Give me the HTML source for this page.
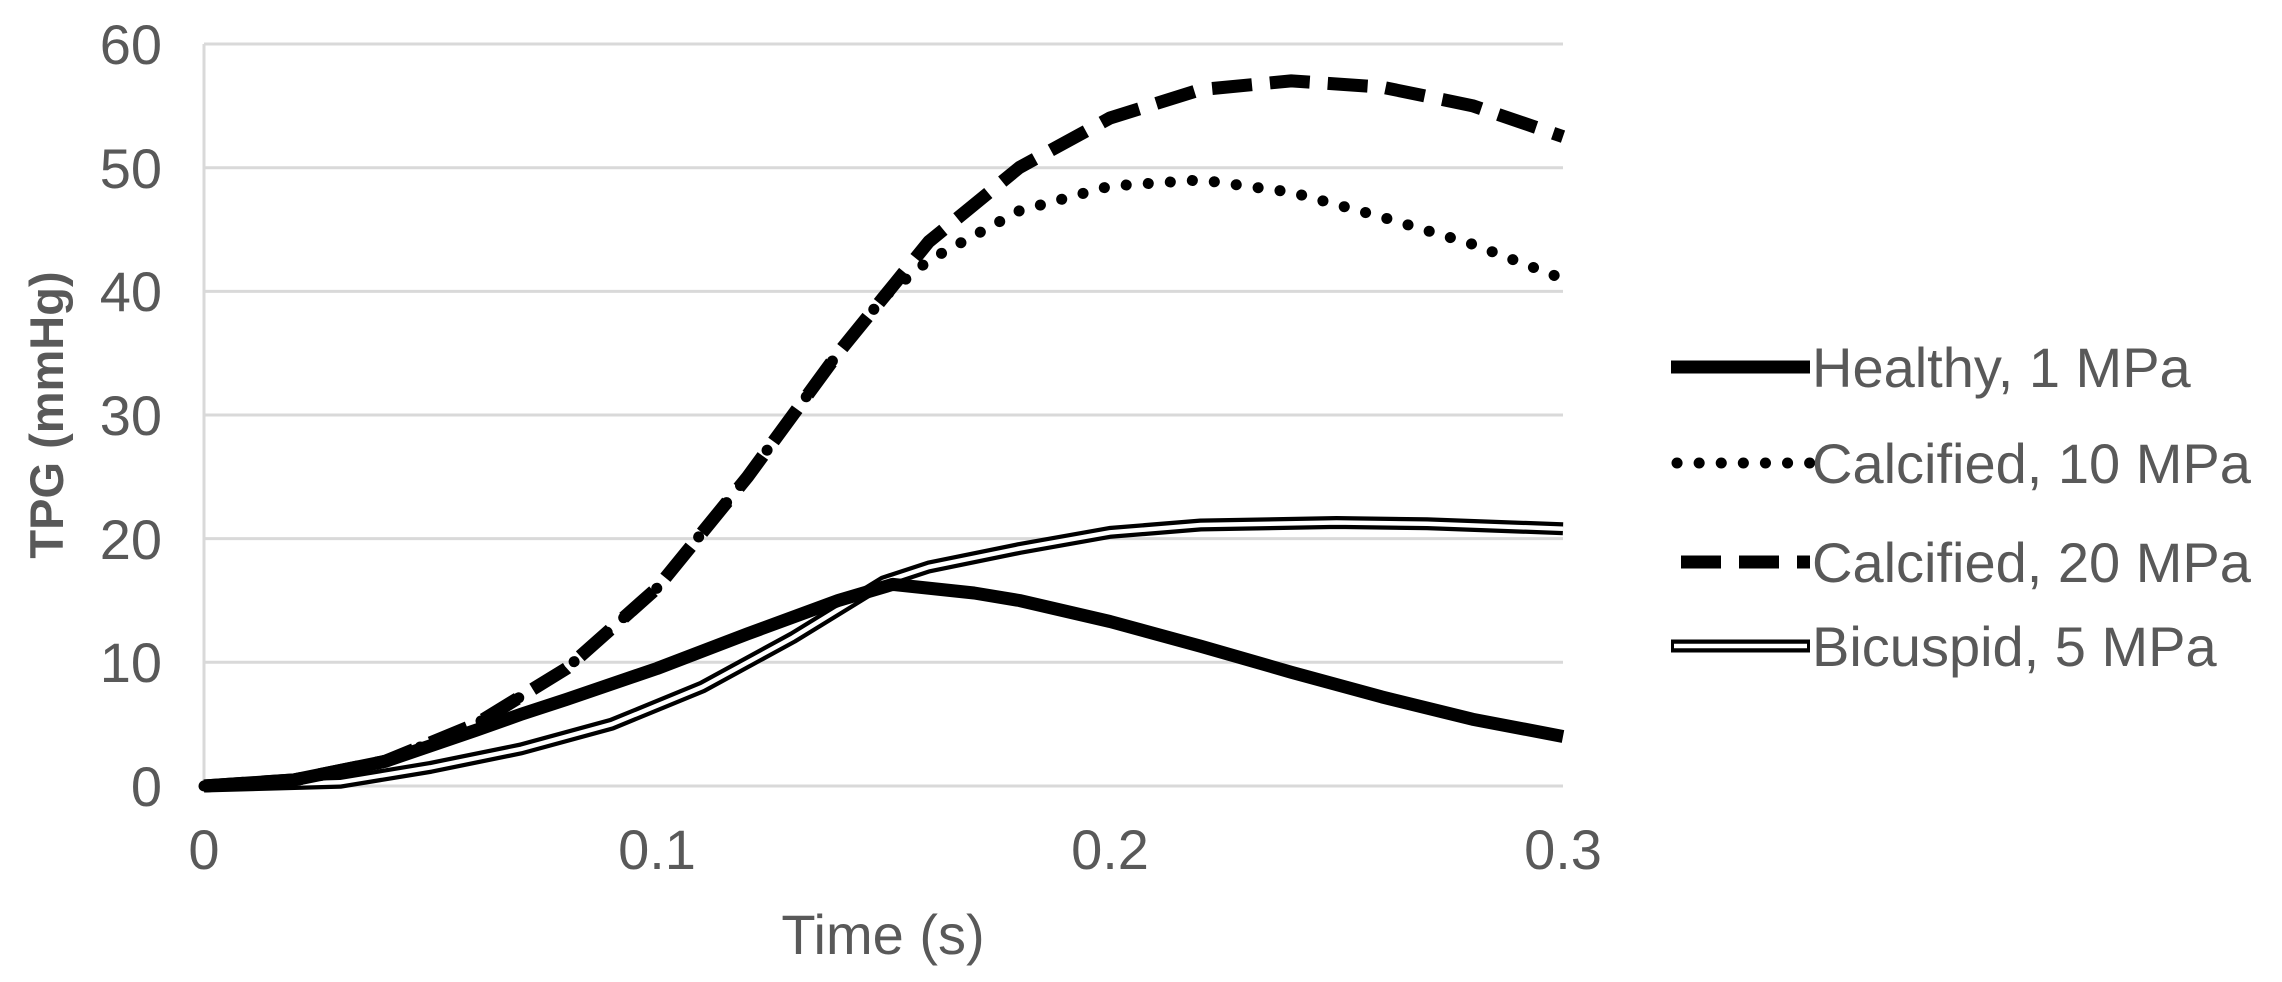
<!DOCTYPE html>
<html><head><meta charset="utf-8"><style>
html,body{margin:0;padding:0;background:#fff;}
svg{display:block;}
text{font-family:"Liberation Sans",Arial,sans-serif;fill:#595959;}
</style></head><body>
<svg width="2282" height="982" viewBox="0 0 2282 982" xmlns="http://www.w3.org/2000/svg">
<g stroke="#d9d9d9" stroke-width="3">
<line x1="204" y1="44" x2="1563" y2="44"/>
<line x1="204" y1="167.7" x2="1563" y2="167.7"/>
<line x1="204" y1="291.4" x2="1563" y2="291.4"/>
<line x1="204" y1="415" x2="1563" y2="415"/>
<line x1="204" y1="538.6" x2="1563" y2="538.6"/>
<line x1="204" y1="662.3" x2="1563" y2="662.3"/>
<line x1="204" y1="786" x2="1563" y2="786"/>
<line x1="204" y1="44" x2="204" y2="786"/>
</g>
<g font-size="56" text-anchor="end">
<text x="162" y="806">0</text>
<text x="162" y="682">10</text>
<text x="162" y="559">20</text>
<text x="162" y="435">30</text>
<text x="162" y="311">40</text>
<text x="162" y="188">50</text>
<text x="162" y="64">60</text>
</g>
<g font-size="56" text-anchor="middle">
<text x="204" y="869">0</text>
<text x="657" y="869">0.1</text>
<text x="1110" y="869">0.2</text>
<text x="1563" y="869">0.3</text>
<text x="883" y="954">Time (s)</text>
</g>
<text x="0" y="0" font-size="47" font-weight="bold" text-anchor="middle" transform="translate(63,415) rotate(-90)">TPG (mmHg)</text>
<g fill="none" stroke-linejoin="round">
<polyline stroke="#000" stroke-width="13" points="204,786 339.9,782.3 430.5,767.4 521.1,748.9 611.7,724.2 702.3,687.0 792.9,637.6 883.5,581.9 928.8,567.0 1019.4,548.5 1110,532.4 1200.6,525.0 1336.5,522.5 1427.1,523.8 1563,528.7"/>
<polyline stroke="#fff" stroke-width="4.5" points="204,786 339.9,782.3 430.5,767.4 521.1,748.9 611.7,724.2 702.3,687.0 792.9,637.6 883.5,581.9 928.8,567.0 1019.4,548.5 1110,532.4 1200.6,525.0 1336.5,522.5 1427.1,523.8 1563,528.7"/>
<polyline stroke="#000" stroke-width="13" points="204,786 294.6,779.8 385.2,761.3 475.8,730.3 521.1,714.3 566.4,699.4 657,668.5 747.6,633.8 838.2,600.5 892.6,584.4 974.1,593.0 1019.4,600.5 1110,621.5 1200.6,646.2 1291.2,672.2 1381.8,696.9 1472.4,719.2 1563,736.5"/>
<polyline stroke="#000" stroke-width="11" stroke-linecap="round" stroke-dasharray="0.1 22" points="204,786 294.6,779.8 385.2,761.3 475.8,724.2 566.4,668.5 657,588.1 747.6,476.8 838.2,353.1 883.5,297.4 928.8,260.3 1019.4,210.8 1110,186.1 1200.6,179.9 1291.2,192.2 1381.8,217.0 1472.4,244.2 1563,278.8"/>
<polyline stroke="#000" stroke-width="13" stroke-dasharray="40 18" points="204,786 294.6,779.8 385.2,761.3 475.8,724.2 566.4,668.5 657,588.1 747.6,476.8 838.2,353.1 883.5,297.4 928.8,241.7 1019.4,167.5 1110,118.0 1200.6,89.6 1291.2,80.9 1381.8,87.1 1472.4,105.7 1563,136.6"/>
</g>
<g fill="none">
<line x1="1671" y1="367" x2="1810" y2="367" stroke="#000" stroke-width="13"/>
<line x1="1677" y1="463" x2="1810" y2="463" stroke="#000" stroke-width="11" stroke-linecap="round" stroke-dasharray="0.1 22"/>
<line x1="1671" y1="562" x2="1810" y2="562" stroke="#000" stroke-width="13" stroke-dasharray="40 18" stroke-dashoffset="-10"/>
<line x1="1671" y1="646" x2="1810" y2="646" stroke="#000" stroke-width="13"/>
<line x1="1674" y1="646" x2="1807" y2="646" stroke="#fff" stroke-width="4.5"/>
</g>
<g font-size="56">
<text x="1812" y="387">Healthy, 1 MPa</text>
<text x="1812" y="483">Calcified, 10 MPa</text>
<text x="1812" y="582">Calcified, 20 MPa</text>
<text x="1812" y="666">Bicuspid, 5 MPa</text>
</g>
</svg>
</body></html>
